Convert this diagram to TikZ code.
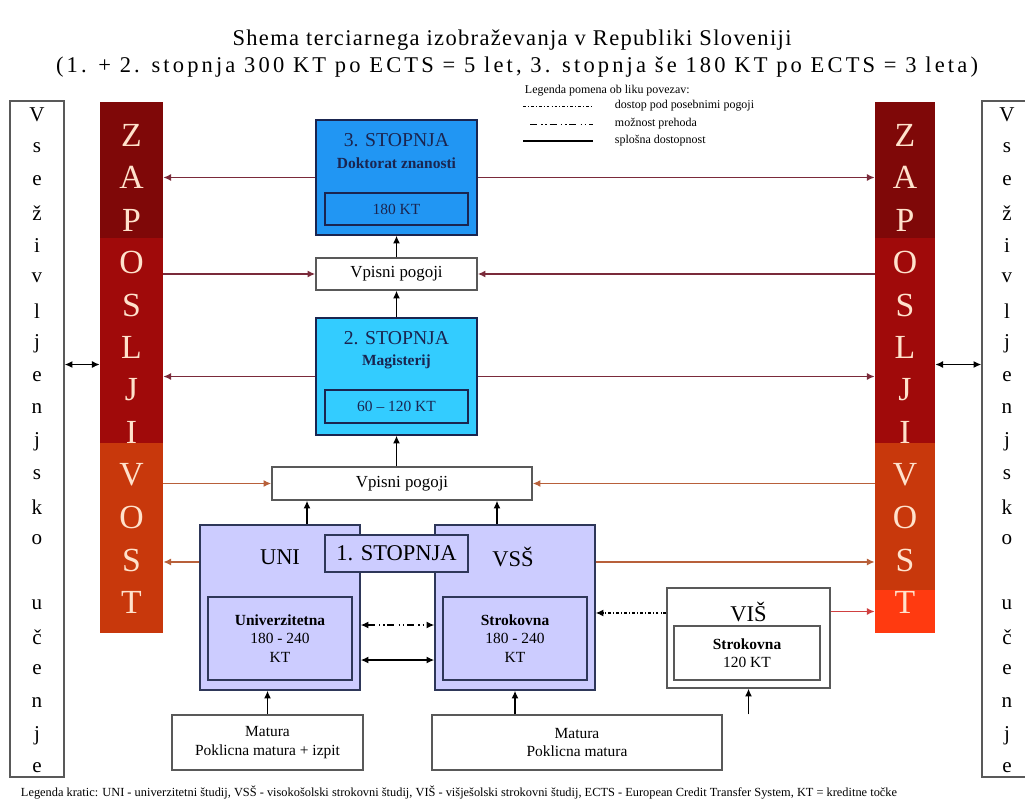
\documentclass[tikz,border=0pt]{standalone}
\usepackage{fontspec}
\setmainfont{Liberation Serif}
\usetikzlibrary{arrows.meta}
\definecolor{zapdark}{HTML}{7F0808}
\definecolor{zapred}{HTML}{A00A0A}
\definecolor{zaporange}{HTML}{C8380C}
\definecolor{zapbright}{HTML}{FF3A10}
\definecolor{zapletter}{HTML}{FFE2CC}
\definecolor{deep}{HTML}{2196F3}
\definecolor{sky}{HTML}{33CCFF}
\definecolor{lavender}{HTML}{CCCCFF}
\definecolor{navy}{HTML}{1A2550}
\definecolor{upline}{HTML}{7A2A3A}
\definecolor{lowline}{HTML}{B8603A}
\definecolor{visline}{HTML}{D04040}
\tikzset{
  box/.style={draw=#1, line width=1pt, inner sep=0pt, align=center},
  box/.default=gray!70!black,
  bar/.style={fill=#1, draw=none, minimum width=1.575cm, inner sep=0pt},
  zapchar/.style={text=zapletter, font=\fontsize{24}{28}\selectfont},
  lifechar/.style={font=\fontsize{15}{17}\selectfont},
  tip/.style={-{Latex[length=5.5pt,width=5pt]}},
  twotip/.style={{Latex[length=5.5pt,width=5pt]}-{Latex[length=5.5pt,width=5pt]}},
  posebni/.style={dash pattern=on 2pt off 1.5pt on 0.6pt off 1.5pt},
  prehod/.style={dash pattern=on 5pt off 3pt on 1pt off 2pt on 1pt off 2pt},
  small/.style={font=\fontsize{11}{13}\selectfont},
  big/.style={font=\fontsize{16}{19}\selectfont},
}
\begin{document}
\begin{tikzpicture}[x=0.025cm, y=-0.025cm]
  \useasboundingbox (0,0) rectangle (1025,807);
  \fill[white] (0,0) rectangle (1025,807);

  \node (title1) at (512,40) {\fontsize{16}{19}\selectfont\addfontfeature{LetterSpace=6}Shema terciarnega izobraževanja v Republiki Sloveniji};
  \node (title2) at (517,67) {\fontsize{16}{19}\selectfont\addfontfeature{LetterSpace=14}(1. + 2. stopnja 300 KT po ECTS = 5 let, 3. stopnja še 180 KT po ECTS = 3 leta)};

  \node[anchor=west, font=\fontsize{8.5}{10}\selectfont] (legt) at (520,91) {Legenda pomena ob liku povezav:};
  \node[anchor=west, font=\fontsize{8.5}{10}\selectfont] (leg1) at (610,106) {dostop pod posebnimi pogoji};
  \node[anchor=west, font=\fontsize{8.5}{10}\selectfont] (leg2) at (610,124) {možnost prehoda};
  \node[anchor=west, font=\fontsize{8.5}{10}\selectfont] (leg3) at (610,141) {splošna dostopnost};
  \draw[posebni] (523,106) -- (593,106);
  \draw[prehod] (530,124) -- (593,124);
  \draw[line width=1pt] (523,141) -- (593,141);

  \node[box, minimum width=1.35cm, minimum height=16.9cm] (lll) at (37,439) {};
  \node[box, minimum width=1.25cm, minimum height=16.9cm] (rrr) at (1007,439) {};
  \foreach \c [count=\i from 0] in {V,s,e,ž,i,v,l,j,e,n,j,s,k,o,{},u,č,e,n,j,e} {
    \node[lifechar] (ll\i) at (37,115+32.65*\i) {\c};
    \node[lifechar] (rl\i) at (1007,115+32.65*\i) {\c};
  }

  \node[bar=zapdark, minimum height=3.4cm] (zapL1) at (131.5,170) {};
  \node[bar=zapred, minimum height=5.125cm] (zapL2) at (131.5,340.5) {};
  \node[bar=zaporange, minimum height=4.75cm] (zapL3) at (131.5,538) {};
  \node[bar=zapdark, minimum height=3.4cm, minimum width=1.5cm] (zapR1) at (905,170) {};
  \node[bar=zapred, minimum height=5.125cm, minimum width=1.5cm] (zapR2) at (905,340.5) {};
  \node[bar=zaporange, minimum height=3.675cm, minimum width=1.5cm] (zapR3) at (905,516.5) {};
  \node[bar=zapbright, minimum height=1.075cm, minimum width=1.5cm] (zapR4) at (905,611.5) {};
  \foreach \c [count=\i from 0] in {Z,A,P,O,S,L,J,I,V,O,S,T} {
    \node[zapchar] (zl\i) at (131.5,135+42.5*\i) {\c};
    \node[zapchar] (zr\i) at (905,135+42.5*\i) {\c};
  }

  \node[box=navy, fill=deep, minimum width=4.025cm, minimum height=2.875cm] (stop3) at (396.5,177.5) {};
  \node[text=navy, font=\fontsize{14}{16}\selectfont] (stop3t) at (396.5,140) {3. STOPNJA};
  \node[text=navy, font=\bfseries\fontsize{11}{13}\selectfont] (stop3s) at (396.5,163) {Doktorat znanosti};
  \node[box=navy, text=navy, small, minimum width=3.575cm, minimum height=0.8cm] (stop3k) at (396.5,209) {180 KT};

  \node[box, fill=white, font=\fontsize{12}{14}\selectfont, minimum width=4.025cm, minimum height=0.8cm] (vp2) at (396.5,274) {Vpisni pogoji};

  \node[box=navy, fill=sky, minimum width=4.025cm, minimum height=2.925cm] (stop2) at (396.5,376.5) {};
  \node[text=navy, font=\fontsize{14}{16}\selectfont] (stop2t) at (396.5,338) {2. STOPNJA};
  \node[text=navy, font=\bfseries\fontsize{11}{13}\selectfont] (stop2s) at (396.5,362) {Magisterij};
  \node[box=navy, text=navy, small, minimum width=3.575cm, minimum height=0.825cm] (stop2k) at (396.5,406.5) {60 – 120 KT};

  \node[box, fill=white, font=\fontsize{12}{14}\selectfont, minimum width=6.5cm, minimum height=0.825cm] (vp1) at (402,483.5) {Vpisni pogoji};

  \node[box=navy!80!gray, fill=lavender, minimum width=4cm, minimum height=4.125cm] (uni) at (280,607.5) {};
  \node[box=navy!80!gray, fill=lavender, minimum width=4cm, minimum height=4.125cm] (vss) at (515,607.5) {};
  \node[big] (unit) at (280,557) {UNI};
  \node[big] (vsst) at (513,557) {VSŠ};
  \node[box=navy!80!gray, fill=lavender, big, minimum width=3.575cm, minimum height=0.925cm] (stop1) at (396.5,553.5) {1. STOPNJA};
  \node[box=navy!80!gray, small, minimum width=3.6cm, minimum height=2.075cm] (uniIn) at (280,638.5)
    {\textbf{Univerzitetna}\\180 - 240\\KT};
  \node[box=navy!80!gray, small, minimum width=3.6cm, minimum height=2.075cm] (vssIn) at (515,638.5)
    {\textbf{Strokovna}\\180 - 240\\KT};

  \node[box, fill=white, minimum width=4.075cm, minimum height=2.5cm] (vis) at (748.5,638) {};
  \node[big] (vist) at (748.5,612) {VIŠ};
  \node[box, small, minimum width=3.65cm, minimum height=1.35cm] (visIn) at (747,653) {\textbf{Strokovna}\\120 KT};

  \node[box, fill=white, small, minimum width=4.775cm, minimum height=1.375cm] (matL) at (267.5,742.5) {Matura\\Poklicna matura + izpit};
  \node[box, fill=white, small, minimum width=7.25cm, minimum height=1.375cm] (matR) at (577,742.5) {Matura\\Poklicna matura};

  \node[anchor=west, font=\fontsize{8.8}{10}\selectfont] (foot) at (16,793)
    {Legenda kratic: UNI - univerzitetni študij, VSŠ - visokošolski strokovni študij, VIŠ - višješolski strokovni študij, ECTS - European Credit Transfer System, KT = kreditne točke};

  \begin{scope}[upline, line width=1.1pt, tip]
    \draw (stop3.west) -- (stop3.west -| zapL1.east);
    \draw (stop3.east) -- (stop3.east -| zapR1.west);
    \draw (zapL2.east |- vp2.west) -- (vp2.west);
    \draw (zapR2.west |- vp2.east) -- (vp2.east);
    \draw (stop2.west) -- (stop2.west -| zapL2.east);
    \draw (stop2.east) -- (stop2.east -| zapR2.west);
  \end{scope}
  \coordinate (uniOut) at ([yshift=1.1375cm]uni.west);
  \coordinate (vssOut) at ([yshift=1.1375cm]vss.east);
  \begin{scope}[lowline, line width=1.1pt, tip]
    \draw (zapL3.east |- vp1.west) -- (vp1.west);
    \draw (zapR3.west |- vp1.east) -- (vp1.east);
    \draw (uniOut) -- (uniOut -| zapL3.east);
    \draw (vssOut) -- (vssOut -| zapR3.west);
    \draw[visline] (vis.east |- zapR4.west) -- (zapR4.west);
  \end{scope}

  \coordinate (uniUp) at ([xshift=0.675cm]uni.north);
  \coordinate (vssUp) at ([xshift=-0.45cm]vss.north);
  \coordinate (lifeL) at ([yshift=-0.6cm]zapL2.west);
  \coordinate (lifeR) at ([yshift=-0.6cm]zapR2.east);
  \coordinate (moveA) at ([yshift=-0.4375cm]uni.east);
  \coordinate (moveB) at ([yshift=-1.3125cm]uni.east);
  \coordinate (visLeft) at ([yshift=0.625cm]vis.west);
  \begin{scope}[line width=1pt, tip]
    \draw (vp2.north) -- (stop3.south);
    \draw (stop2.north) -- (vp2.south);
    \draw (stop2.south |- vp1.north) -- (stop2.south);
    \draw (uniUp) -- (uniUp |- vp1.south);
    \draw (vssUp) -- (vssUp |- vp1.south);
    \draw (matL.north) -- (matL.north |- uni.south);
    \draw (vss.south |- matR.north) -- (vss.south);
    \draw (vis.south |- matR.north) -- (vis.south);
    \draw[posebni] (visLeft) -- (visLeft -| vss.east);
  \end{scope}
  \begin{scope}[line width=1pt, twotip]
    \draw (lifeL) -- (lifeL -| lll.east);
    \draw (lifeR) -- (lifeR -| rrr.west);
    \draw[prehod] (moveA) -- (moveA -| vss.west);
    \draw (moveB) -- (moveB -| vss.west);
  \end{scope}
\end{tikzpicture}
\end{document}
